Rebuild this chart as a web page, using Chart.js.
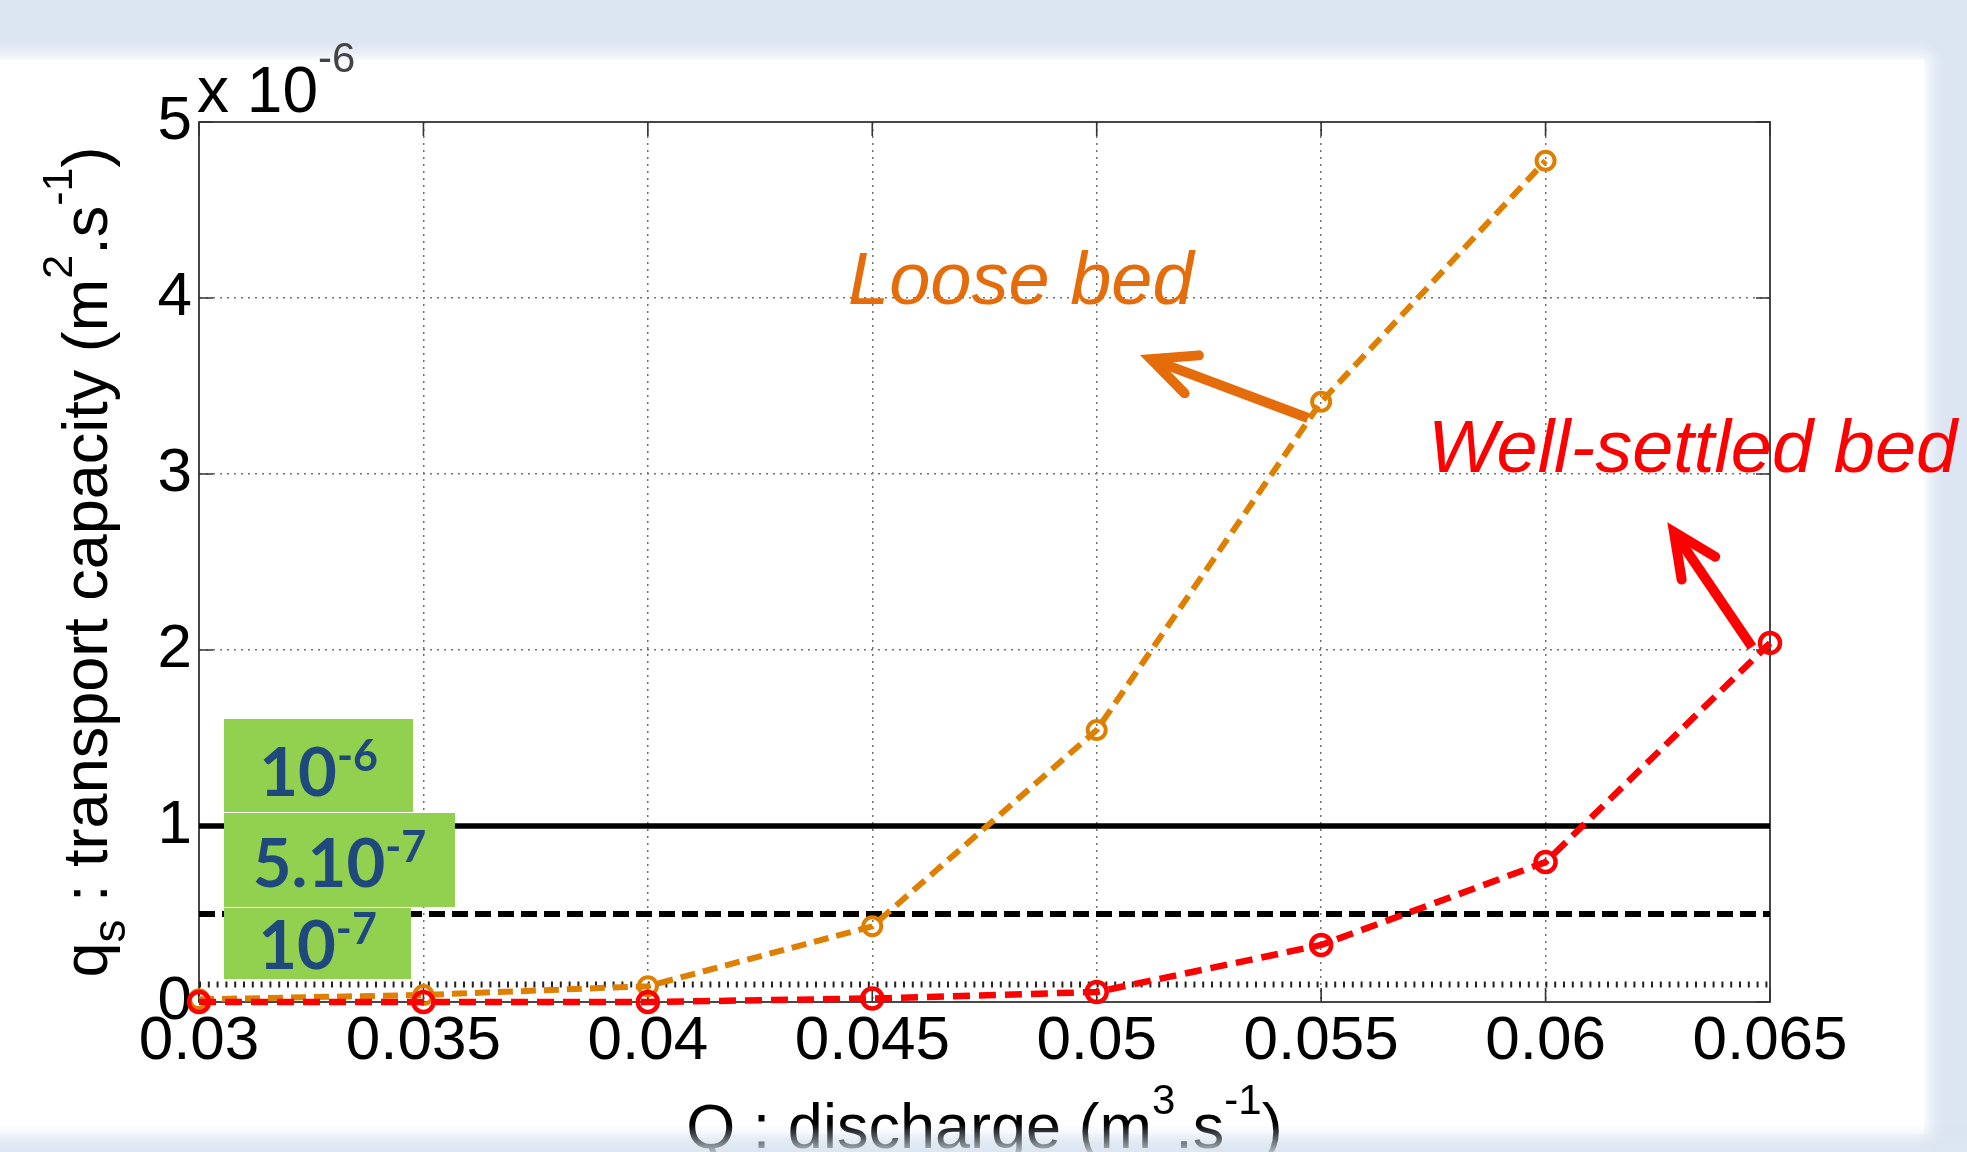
<!DOCTYPE html>
<html><head><meta charset="utf-8">
<style>
html,body{margin:0;padding:0;width:1967px;height:1152px;overflow:hidden;background:#dce6f2;}
#panel{position:absolute;left:-40px;top:60px;width:1964px;height:1074px;background:#fff;box-shadow:0 0 14px 6px #fff;}
#wrap{position:absolute;left:0;top:0;width:1967px;height:1152px;z-index:1;}
#fade{position:absolute;left:0;top:1124px;width:1967px;height:28px;z-index:2;background:linear-gradient(to bottom, rgba(220,230,242,0), rgba(220,230,242,0.8));}
</style>
<script src="https://cdn.jsdelivr.net/npm/chart.js@4/dist/chart.umd.min.js"></script>
</head><body>
<div id="panel"></div>
<div id="wrap"><canvas id="c" width="1967" height="1152"></canvas></div>
<div id="fade"></div>
<script>
// ---- data (y values in units of 1e-6 m2/s) ----
const Q = [0.03, 0.035, 0.04, 0.045, 0.05, 0.055, 0.06, 0.065];
const looseBed = [0.015, 0.04, 0.09, 0.43, 1.545, 3.41, 4.78];
const wellSettled = [0, 0, 0, 0.02, 0.057, 0.324, 0.795, 2.04];
const thresholds = [1, 0.5, 0.1];
const thresholdBase = ['10', '5.10', '10'];
const thresholdExp = ['-6', '-7', '-7'];
const xTickLabels = ['0.03', '0.035', '0.04', '0.045', '0.05', '0.055', '0.06', '0.065'];
const yTicks = [0, 1, 2, 3, 4, 5];
const yTickLabels = ['0', '1', '2', '3', '4', '5'];
const seriesNames = ['Loose bed', 'Well-settled bed'];

// ---- annotation layout (data units) ----
const boxes = [
  {x0: 0.030557, x1: 0.034768, y0: 1.608, y1: 1.0795, base: 1.170},
  {x0: 0.030557, x1: 0.035703, y0: 1.074, y1: 0.540, base: 0.653},
  {x0: 0.030557, x1: 0.034723, y0: 0.534, y1: 0.1307, base: 0.1875}
];
const arrows = [
  {tx: 0.054707, ty: 3.318, hx: 0.051209, hy: 3.653, color: '#e46c0a'},
  {tx: 0.064599, ty: 2.017, hx: 0.062861, hy: 2.670, color: '#ff0000'}
];
const labels = [
  {text: seriesNames[0], x: 0.044459, y: 3.966, color: '#e46c0a'},
  {text: seriesNames[1], x: 0.05738, y: 3.011, color: '#ff0000'}
];

const SANS = '"Liberation Sans", Arial, sans-serif';
const F = (s, w, st) => (st || '') + ' ' + (w || '') + ' ' + s + 'px ' + SANS;

function drawRich(ctx, parts, x, y, align) {
  let total = 0;
  parts.forEach(p => { ctx.font = p.f; p.w = ctx.measureText(p.t).width; total += p.w; });
  let cx = align === 'center' ? x - total / 2 : x;
  ctx.textAlign = 'left'; ctx.textBaseline = 'alphabetic';
  parts.forEach(p => { ctx.font = p.f; ctx.fillStyle = p.c || '#000'; ctx.fillText(p.t, cx, y + (p.dy || 0)); cx += p.w; });
}

function drawArrow(ctx, x0, y0, x1, y1, color) {
  ctx.save();
  ctx.strokeStyle = color; ctx.lineWidth = 10;
  ctx.lineCap = 'butt';
  ctx.beginPath(); ctx.moveTo(x0, y0); ctx.lineTo(x1, y1); ctx.stroke();
  const ang = Math.atan2(y0 - y1, x0 - x1), ha = 25 * Math.PI / 180, hl = 48;
  ctx.lineCap = 'round'; ctx.lineJoin = 'miter';
  ctx.beginPath();
  ctx.moveTo(x1 + hl * Math.cos(ang - ha), y1 + hl * Math.sin(ang - ha));
  ctx.lineTo(x1, y1);
  ctx.lineTo(x1 + hl * Math.cos(ang + ha), y1 + hl * Math.sin(ang + ha));
  ctx.stroke();
  ctx.restore();
}

const TL = 14;
const framePlugin = {
  id: 'frame',
  beforeDatasetsDraw(chart) {
    const {ctx, chartArea: a, scales: {x, y}} = chart;
    ctx.save();
    ctx.strokeStyle = '#333'; ctx.lineWidth = 1.6;
    ctx.beginPath();
    x.ticks.forEach(t => {
      const p = x.getPixelForValue(t.value);
      ctx.moveTo(p, a.bottom); ctx.lineTo(p, a.bottom - TL);
      ctx.moveTo(p, a.top); ctx.lineTo(p, a.top + TL);
    });
    y.ticks.forEach(t => {
      const p = y.getPixelForValue(t.value);
      ctx.moveTo(a.left, p); ctx.lineTo(a.left + TL, p);
      ctx.moveTo(a.right, p); ctx.lineTo(a.right - TL, p);
    });
    ctx.stroke();
    ctx.lineWidth = 1.8;
    ctx.strokeRect(a.left, a.top, a.right - a.left, a.bottom - a.top);
    ctx.restore();
  }
};

const annPlugin = {
  id: 'ann',
  afterDatasetsDraw(chart) {
    const {ctx, scales: {x, y}} = chart;
    ctx.save();
    boxes.forEach((b, i) => {
      const X0 = x.getPixelForValue(b.x0), X1 = x.getPixelForValue(b.x1);
      const Y0 = y.getPixelForValue(b.y0), Y1 = y.getPixelForValue(b.y1);
      ctx.fillStyle = '#92d050';
      ctx.fillRect(X0, Y0, X1 - X0, Y1 - Y0);
      drawRich(ctx, [
        {t: thresholdBase[i], f: '700 67px Lato, sans-serif', c: '#1f497d'},
        {t: thresholdExp[i], f: '700 43px Lato, sans-serif', c: '#1f497d', dy: -25}
      ], (X0 + X1) / 2, y.getPixelForValue(b.base), 'center');
    });
    arrows.forEach(a => drawArrow(ctx, x.getPixelForValue(a.tx), y.getPixelForValue(a.ty),
      x.getPixelForValue(a.hx), y.getPixelForValue(a.hy), a.color));
    labels.forEach(l => {
      ctx.font = F(74, '', 'italic'); ctx.fillStyle = l.color;
      ctx.textAlign = 'left'; ctx.textBaseline = 'alphabetic';
      ctx.fillText(l.text, x.getPixelForValue(l.x), y.getPixelForValue(l.y));
    });
    ctx.restore();
  },
  afterDraw(chart) {
    const {ctx, chartArea: a} = chart;
    ctx.save();
    drawRich(ctx, [
      {t: 'x 10', f: F(64)},
      {t: '-6', f: F(42), dy: -40, c: '#444'}
    ], a.left - 2, a.top - 10, 'left');
    drawRich(ctx, [
      {t: 'Q : discharge (m', f: F(63)},
      {t: '3', f: F(42), dy: -34},
      {t: '.s', f: F(63)},
      {t: '-1', f: F(42), dy: -34},
      {t: ')', f: F(63)}
    ], (a.left + a.right) / 2, 1148, 'center');
    ctx.translate(107, (a.top + a.bottom) / 2);
    ctx.rotate(-Math.PI / 2);
    drawRich(ctx, [
      {t: 'q', f: F(63)},
      {t: 's', f: F(46), dy: 18},
      {t: ' : transport capacity (m', f: F(63)},
      {t: '2', f: F(43), dy: -35},
      {t: '.s', f: F(63)},
      {t: '-1', f: F(43), dy: -35},
      {t: ')', f: F(63)}
    ], 0, 0, 'center');
    ctx.restore();
  }
};

const pts = (xs, ys) => ys.map((v, i) => ({x: xs[i], y: v}));
const lineDs = (data, color, w, dash, r, bw, order) => ({
  data, borderColor: color, borderWidth: w, borderDash: dash, pointRadius: r,
  pointBorderWidth: bw, pointBorderColor: color, pointBackgroundColor: 'rgba(0,0,0,0)',
  pointStyle: 'circle', tension: 0, fill: false, clip: false, order, showLine: true
});

const datasets = [
  Object.assign(lineDs(pts(Q, wellSettled), '#ff0000', 6.5, [17, 9], 10, 4.5, 0), {label: seriesNames[1]}),
  Object.assign(lineDs(pts(Q, looseBed), '#de7f00', 6, [15, 8], 9, 4, 1), {label: seriesNames[0]}),
  lineDs([{x: Q[0], y: thresholds[0]}, {x: Q[Q.length - 1], y: thresholds[0]}], '#000', 5.5, [], 0, 0, 2),
  lineDs([{x: Q[0], y: thresholds[1]}, {x: Q[Q.length - 1], y: thresholds[1]}], '#000', 6, [16, 7], 0, 0, 3),
  lineDs([{x: Q[0], y: thresholds[2]}, {x: Q[Q.length - 1], y: thresholds[2]}], '#222', 6, [2, 6.8], 0, 0, 4)
];

const gridColor = n => c => (c.index === 0 || c.index === n - 1) ? 'rgba(0,0,0,0)' : '#707070';

new Chart(document.getElementById('c'), {
  type: 'line',
  data: {datasets},
  options: {
    responsive: false, animation: false, devicePixelRatio: 1, events: [],
    layout: {padding: {left: 0, top: 122, right: 197, bottom: 0}},
    plugins: {legend: {display: false}, tooltip: {enabled: false}},
    scales: {
      x: {
        type: 'linear', position: 'bottom', min: Q[0], max: Q[Q.length - 1],
        afterBuildTicks: s => { s.ticks = Q.map(v => ({value: v})); },
        afterFit: s => { s.height = 150; s.paddingLeft = 0; s.paddingRight = 0; s.paddingTop = 0; s.paddingBottom = 0; },
        ticks: {autoSkip: false, maxRotation: 0, minRotation: 0, padding: 3, color: '#000',
          font: {family: SANS, size: 62}, callback: (v, i) => xTickLabels[i]},
        grid: {drawTicks: false, lineWidth: 1.5, color: gridColor(Q.length)},
        border: {display: false, dash: [2, 5]}
      },
      y: {
        type: 'linear', position: 'left', min: yTicks[0], max: yTicks[yTicks.length - 1],
        afterBuildTicks: s => { s.ticks = yTicks.map(v => ({value: v})); },
        afterFit: s => { s.width = 199; s.paddingLeft = 0; s.paddingRight = 0; s.paddingTop = 0; s.paddingBottom = 0; },
        ticks: {padding: 7, color: '#000', font: {family: SANS, size: 62}, callback: (v, i) => yTickLabels[i]},
        grid: {drawTicks: false, lineWidth: 1.5, color: gridColor(yTicks.length)},
        border: {display: false, dash: [2, 5]}
      }
    }
  },
  plugins: [framePlugin, annPlugin]
});
</script></body></html>
